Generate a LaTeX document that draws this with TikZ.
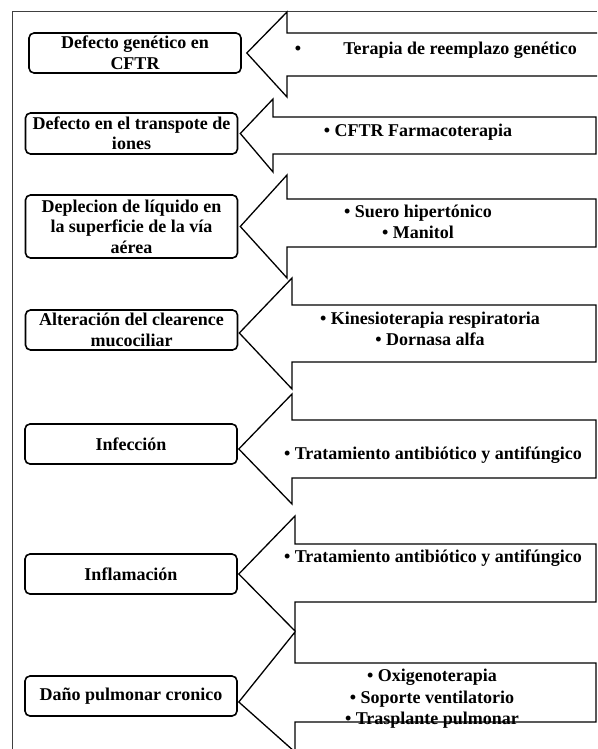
\documentclass[tikz,border=0pt]{standalone}
\usepackage{fontspec}
\setmainfont{Liberation Serif}
\tikzset{
  cause/.style={draw, line width=1.6pt, rounded corners=5pt, minimum width=212pt,
    align=center, inner sep=0pt, font=\bfseries\fontsize{18}{20.5}\selectfont},
  blockarrow/.style={draw, line width=1.3pt, line join=miter},
  txt/.style={align=center, inner sep=0pt, font=\bfseries\fontsize{18}{20.5}\selectfont},
  frame/.style={draw=black!75, line width=1pt}
}
\begin{document}
\begin{tikzpicture}[x=1pt,y=-1pt]
\useasboundingbox (0,0) rectangle (597,749);
\clip (0,0) rectangle (597,749);
\fill[white] (0,0) rectangle (597,749);
% frame
\draw[frame] (12,749) -- (12,12) -- (597,12);
% cause boxes
\node[cause, minimum height=40pt] (b1) at (135,53) {Defecto genético en\\CFTR};
\node[cause, minimum height=41pt] (b2) at (131.5,133.5) {Defecto en el transpote de\\iones};
\node[cause, minimum height=63pt] (b3) at (131.5,226.5) {Deplecion de líquido en\\la superficie de la vía\\aérea};
\node[cause, minimum height=40pt] (b4) at (131.5,330) {Alteración del clearence\\mucociliar};
\node[cause, minimum height=40pt] (b5) at (131,444) {Infección};
\node[cause, minimum height=40pt] (b6) at (131,574) {Inflamación};
\node[cause, minimum height=40pt] (b7) at (131,696) {Daño pulmonar cronico};
% block arrows
\draw[blockarrow] ([xshift=5pt]b1.east) -- (287,12) -- (287,33) -- (605,33) -- (605,76) -- (287,76) -- (287,97) -- cycle;
\draw[blockarrow] ([xshift=2pt]b2.east) -- (273,99) -- (273,117) -- (596,117) -- (596,154) -- (273,154) -- (273,172) -- cycle;
\draw[blockarrow] ([xshift=2pt]b3.east) -- (287,175) -- (287,199) -- (596,199) -- (596,247) -- (287,247) -- (287,278) -- cycle;
\draw[blockarrow] ([xshift=1pt,yshift=-3pt]b4.east) -- (292,278) -- (292,305) -- (596,305) -- (596,362) -- (292,362) -- (292,389) -- cycle;
\draw[blockarrow] ([xshift=1pt,yshift=-5pt]b5.east) -- (292,394) -- (292,420) -- (596,420) -- (596,478) -- (292,478) -- (292,504) -- cycle;
\draw[blockarrow] ([xshift=1pt]b6.east) -- (295,516) -- (295,544) -- (596,544) -- (596,602) -- (295,602) -- (295,631) -- cycle;
\draw[blockarrow] ([xshift=1pt,yshift=-6pt]b7.east) -- (295,632) -- (295,663) -- (596,663) -- (596,722) -- (295,722) -- (295,752) -- cycle;
% treatment texts
\node[txt] (t1a) at (298,50) {•};
\node[txt] (t1) at (460,50) {Terapia de reemplazo genético};
\node[txt] (t2) at (418,132) {• CFTR Farmacoterapia};
\node[txt] (t3) at (418,222) {• Suero hipertónico\\• Manitol};
\node[txt] (t4) at (430,329) {• Kinesioterapia respiratoria\\• Dornasa alfa};
\node[txt] (t5) at (433,455) {• Tratamiento antibiótico y antifúngico};
\node[txt] (t6) at (433,558) {• Tratamiento antibiótico y antifúngico};
\node[txt, font=\bfseries\fontsize{18}{21.5}\selectfont] (t7) at (432,699) {• Oxigenoterapia\\• Soporte ventilatorio\\• Trasplante pulmonar};
\end{tikzpicture}
\end{document}
